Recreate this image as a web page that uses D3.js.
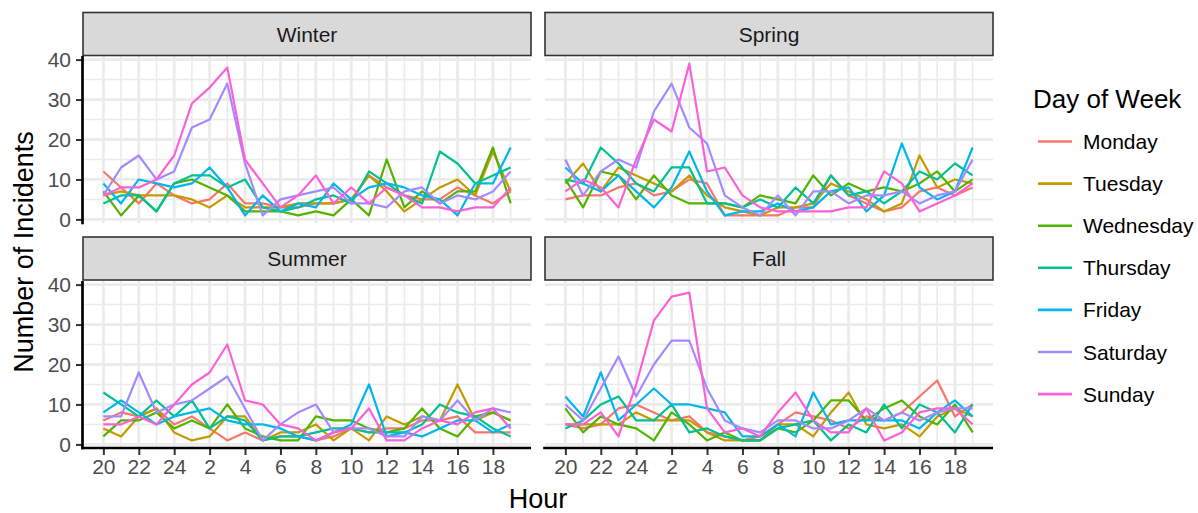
<!DOCTYPE html>
<html><head><meta charset="utf-8">
<script src="https://cdn.jsdelivr.net/npm/d3@7"></script>
<style>
body{margin:0;background:#fff;}
text{font-family:"Liberation Sans",Arial,sans-serif;}
</style>
</head><body>
<svg id="chart" width="1198" height="513"></svg>
<script>
const hours = ["20","21","22","23","24","1","2","3","4","5","6","7","8","9","10","11","12","13","14","15","16","17","18","19"];
const tickHours = ["20","22","24","2","4","6","8","10","12","14","16","18"];
const yTicks = [0,10,20,30,40];
const yMinor = [5,15,25,35];
const seasons = ["Winter","Spring","Summer","Fall"];
const days = ["Monday","Tuesday","Wednesday","Thursday","Friday","Saturday","Sunday"];
const dayColors = ["#F8766D","#C49A00","#53B400","#00C094","#00B6EB","#A58AFF","#FB61D7"];

const winterMonday    = [12,8,4,9,6,4,5,9,4,4,3,3,4,4,5,11,8,6,5,5,8,6,4,7];
const winterTuesday   = [6,7,6,6,6,5,3,6,3,3,3,4,4,4,5,11,7,2,5,8,10,6,17,7];
const winterWednesday = [7,1,6,2,9,10,8,6,2,2,2,1,2,1,5,1,15,3,7,4,7,7,18,4];
const winterThursday  = [4,6,6,2,9,11,11,8,10,3,2,3,5,6,4,12,9,6,4,17,14,9,11,13];
const winterFriday    = [9,4,10,9,8,9,13,8,1,6,2,4,3,9,5,8,9,8,6,5,1,9,9,18];
const winterSaturday  = [6,13,16,10,12,23,25,34,14,1,5,6,7,8,4,4,3,7,8,4,6,5,7,12];
const winterSunday    = [6,8,8,10,16,29,33,38,15,9,3,6,11,4,8,4,8,6,3,3,2,3,3,8];

const springMonday    = [5,6,6,8,9,6,7,10,9,1,1,1,1,3,3,11,6,4,2,3,7,8,6,8];
const springTuesday   = [9,14,7,13,11,9,7,11,6,3,2,1,3,3,4,9,7,5,2,4,16,8,10,9];
const springWednesday = [10,3,12,11,5,11,6,4,4,4,3,6,5,4,11,6,9,7,8,7,9,12,7,10];
const springThursday  = [10,9,18,14,9,7,13,13,4,4,3,5,3,8,4,11,6,7,4,7,12,10,14,11];
const springFriday    = [13,9,7,11,7,3,8,17,7,1,2,2,4,2,3,7,8,2,6,19,8,5,7,18];
const springSaturday  = [15,6,12,15,13,27,34,23,19,6,3,1,6,1,7,7,4,6,6,7,4,6,7,15];
const springSunday    = [7,10,8,3,15,25,22,39,12,13,6,3,2,2,2,2,3,3,12,9,2,4,6,9];

const summerMonday    = [6,8,7,9,5,7,4,1,3,1,2,2,1,2,4,3,4,4,6,6,7,3,3,3];
const summerTuesday   = [4,2,7,9,3,1,2,7,7,1,3,3,5,1,4,1,7,5,7,6,15,6,8,6];
const summerWednesday = [2,6,6,8,4,6,4,10,4,2,1,1,7,6,6,4,3,4,9,4,2,7,8,6];
const summerThursday  = [13,10,7,11,7,11,4,7,6,1,2,2,3,4,4,3,3,3,5,10,8,7,4,2];
const summerFriday    = [8,11,8,5,7,8,9,6,5,5,4,2,1,3,5,15,2,3,2,4,6,6,3,5];
const summerSaturday  = [7,7,18,8,10,11,14,17,9,1,5,8,10,3,4,4,2,2,7,6,11,6,9,8];
const summerSunday    = [5,5,7,5,10,15,18,25,11,10,5,4,1,3,4,9,1,1,4,6,5,8,9,4];

const fallMonday    = [5,4,5,9,10,8,6,7,3,2,1,2,5,8,7,6,4,7,6,8,12,16,7,10];
const fallTuesday   = [5,5,5,5,8,6,6,6,3,1,1,1,5,5,2,8,13,5,4,5,2,7,9,7];
const fallWednesday = [9,3,7,5,4,1,8,5,1,3,1,1,4,3,6,11,11,6,9,11,7,5,10,3];
const fallThursday  = [4,6,10,12,6,6,10,3,4,2,1,1,4,5,6,1,5,3,10,4,10,8,3,10];
const fallFriday    = [12,7,18,6,10,14,10,10,9,8,2,2,5,2,13,5,6,6,6,6,4,8,11,7];
const fallSaturday  = [10,6,14,22,12,20,26,26,14,6,4,3,6,6,4,4,6,9,6,8,6,8,9,9];
const fallSunday    = [5,5,8,2,15,31,37,38,9,3,4,2,8,13,6,3,3,9,1,3,8,9,9,5];

const seriesBySeason = {
  Winter:[winterMonday,winterTuesday,winterWednesday,winterThursday,winterFriday,winterSaturday,winterSunday],
  Spring:[springMonday,springTuesday,springWednesday,springThursday,springFriday,springSaturday,springSunday],
  Summer:[summerMonday,summerTuesday,summerWednesday,summerThursday,summerFriday,summerSaturday,summerSunday],
  Fall:[fallMonday,fallTuesday,fallWednesday,fallThursday,fallFriday,fallSaturday,fallSunday]
};

const svg = d3.select("#chart");
const colX = [[83,531],[545,993]];
const rowY = [{strip:[12.5,55.5], panel:[56,223]},{strip:[237,280],panel:[281,448]}];

const allVals = Object.values(seriesBySeason).flat(2);
const [vmin,vmax] = d3.extent(allVals);
const pad = (vmax-vmin)*0.05;

const color = d3.scaleOrdinal().domain(days).range(dayColors);

seasons.forEach((s,k)=>{
  const c = k%2, r = Math.floor(k/2);
  const [x0,x1] = colX[c];
  const R = rowY[r];
  const x = d3.scalePoint().domain(hours).range([x0,x1]).padding(1.15);
  const y = d3.scaleLinear().domain([vmin-pad,vmax+pad]).range([R.panel[1],R.panel[0]]);
  const g = svg.append("g");
  // grid minor
  g.selectAll(".vminor").data(hours.filter(h=>!tickHours.includes(h))).join("line")
    .attr("x1",d=>x(d)).attr("x2",d=>x(d)).attr("y1",R.panel[0]).attr("y2",R.panel[1])
    .attr("stroke","#EBEBEB").attr("stroke-width",1.6);
  g.selectAll(".hminor").data(yMinor).join("line")
    .attr("x1",x0).attr("x2",x1).attr("y1",d=>y(d)).attr("y2",d=>y(d))
    .attr("stroke","#EBEBEB").attr("stroke-width",1.6);
  g.selectAll(".vmajor").data(tickHours).join("line")
    .attr("x1",d=>x(d)).attr("x2",d=>x(d)).attr("y1",R.panel[0]).attr("y2",R.panel[1])
    .attr("stroke","#EBEBEB").attr("stroke-width",2.8);
  g.selectAll(".hmajor").data(yTicks).join("line")
    .attr("x1",x0).attr("x2",x1).attr("y1",d=>y(d)).attr("y2",d=>y(d))
    .attr("stroke","#EBEBEB").attr("stroke-width",2.8);
  // lines
  const line = d3.line().x((d,i)=>x(hours[i])).y(d=>y(d));
  seriesBySeason[s].forEach((vals,di)=>{
    g.append("path").datum(vals).attr("d",line).attr("fill","none")
      .attr("stroke",color(days[di])).attr("stroke-width",2.2).attr("stroke-linejoin","round");
  });
  // strip
  g.append("rect").attr("x",x0).attr("y",R.strip[0]).attr("width",x1-x0).attr("height",R.strip[1]-R.strip[0])
    .attr("fill","#D9D9D9").attr("stroke","#333333").attr("stroke-width",1.6);
  g.append("text").attr("x",(x0+x1)/2).attr("y",(R.strip[0]+R.strip[1])/2).attr("dy","0.36em")
    .attr("text-anchor","middle").attr("font-size",21).attr("fill","#1A1A1A").text(s);
  // axes
  if(c===0){
    const ay = g.append("g").attr("transform",`translate(${x0},0)`)
      .call(d3.axisLeft(y).tickValues(yTicks).tickSize(7).tickPadding(5));
    ay.select(".domain").remove();
    ay.selectAll(".tick line").attr("stroke","#333333").attr("stroke-width",2);
    ay.selectAll(".tick text").attr("font-size",21).attr("fill","#4D4D4D").attr("font-family","Liberation Sans, Arial, sans-serif");
    g.append("line").attr("x1",x0-0.5).attr("x2",x0-0.5).attr("y1",R.panel[0]).attr("y2",R.panel[1]+1.3)
      .attr("stroke","#000").attr("stroke-width",2.7);
  }
  if(r===1){
    const ax = g.append("g").attr("transform",`translate(0,${R.panel[1]})`)
      .call(d3.axisBottom(x).tickValues(tickHours).tickSize(7).tickPadding(4));
    ax.select(".domain").remove();
    ax.selectAll(".tick line").attr("stroke","#333333").attr("stroke-width",2);
    ax.selectAll(".tick text").attr("font-size",21).attr("fill","#4D4D4D").attr("font-family","Liberation Sans, Arial, sans-serif");
    g.append("line").attr("x1",x0-1.8).attr("x2",x1).attr("y1",R.panel[1]).attr("y2",R.panel[1])
      .attr("stroke","#000").attr("stroke-width",2.7);
  }
});

// axis titles
svg.append("text").attr("x",538).attr("y",508).attr("text-anchor","middle")
  .attr("font-size",27).attr("fill","#000").text("Hour");
svg.append("text").attr("transform","translate(23,252) rotate(-90)").attr("dy","0.36em")
  .attr("text-anchor","middle").attr("font-size",27).attr("fill","#000").text("Number of Incidents");

// legend
const lg = svg.append("g");
lg.append("text").attr("x",1033).attr("y",108).attr("font-size",26).attr("fill","#000").text("Day of Week");
days.forEach((d,i)=>{
  const yy = 141.5 + i*42.1;
  lg.append("line").attr("x1",1038).attr("x2",1072).attr("y1",yy).attr("y2",yy)
    .attr("stroke",color(d)).attr("stroke-width",2.6);
  lg.append("text").attr("x",1083).attr("y",yy).attr("dy","0.36em").attr("font-size",21)
    .attr("fill","#000").text(d);
});
</script>
</body></html>
